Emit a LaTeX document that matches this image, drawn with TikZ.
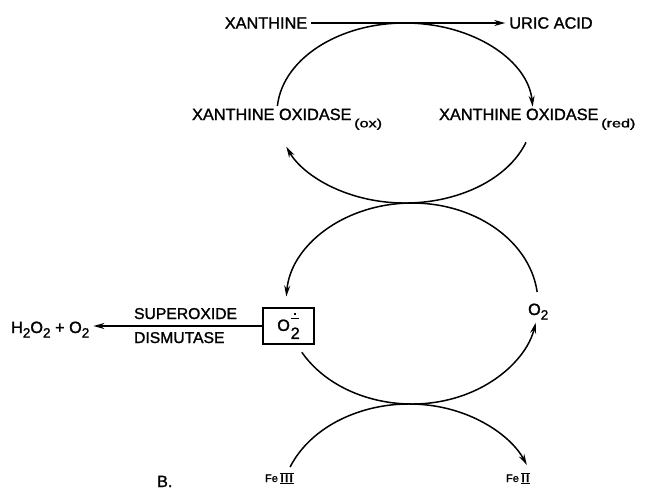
\documentclass[tikz,border=0pt]{standalone}
\usepackage{amsmath}
\usepackage{graphicx}
\usepackage{fontspec}
\setmainfont{Liberation Sans}[FakeBold=1.4]
\usetikzlibrary{arrows.meta}

\newcommand{\subtxt}[1]{\raisebox{-0.28em}{\fontsize{13.5}{13.5}\selectfont #1}}
\newcommand{\redox}[1]{\,\raisebox{-0.45em}{\scalebox{1.35}[1]{\fontsize{12}{12}\selectfont #1}}}
\newcommand{\barnum}[1]{$\underline{\overline{\mbox{\scalebox{1.5}[1]{#1}}}}$}
\newcommand{\superox}{O\hspace{0.8pt}\rlap{\hspace{3.2pt}\raisebox{16pt}{\rule{1.8pt}{1.8pt}}}\rlap{\hspace{0.5pt}\raisebox{11.5pt}{\rule{7.5pt}{1.3pt}}}\raisebox{-8pt}{2}}

\begin{document}
\begin{tikzpicture}[x=1pt,y=1pt,line width=1.5pt,
    >={Stealth[length=11pt,width=6pt]},
    every node/.style={font=\fontsize{16.3}{18}\selectfont},
    lbl/.style={anchor=base west},
    small/.style={font=\fontsize{15.7}{17}\selectfont},
    tiny/.style={font=\fontsize{11}{12}\selectfont}]
    \useasboundingbox (0,0) rectangle (654,-491);

    % labels
    \node (xan) at (266,-23) {XANTHINE};
    \node (uric) at (551,-23) {URIC ACID};
    \node[lbl] (xoox) at (188,-120) {XANTHINE OXIDASE\redox{(ox)}};
    \node[lbl] (xored) at (435,-120) {XANTHINE OXIDASE\redox{(red)}};
    \node[draw,minimum width=51,minimum height=36] (sup) at (288.5,-326) {\superox};
    \node[lbl] (htwo) at (7,-333) {H\subtxt{2}O\subtxt{2} + O\subtxt{2}};
    \node[lbl,small] (enz1) at (130,-319) {SUPEROXIDE};
    \node[lbl,small] (enz2) at (130,-343) {DISMUTASE};
    \node[lbl] (otwo) at (524,-315) {O\subtxt{2}};
    \node[lbl,tiny] (fe3) at (261,-482) {Fe\,\barnum{III}};
    \node[lbl,tiny] (fe2) at (502,-482) {Fe\,\barnum{II}};
    \node[lbl] (part) at (153,-487) {B.};

    % ellipse centres
    \coordinate (ctop) at (405,-113);
    \coordinate (cmid) at (412,-303.5);
    \coordinate (cbot) at (409,-504);

    % connectors
    \draw[->] (xan) -- (uric);
    \draw[->] ([shift={(175.5:128 and 90)}]ctop) arc[start angle=175.5, end angle=4, x radius=128, y radius=90];
    \draw[->] ([shift={(-19:128 and 90)}]ctop) arc[start angle=-19, end angle=-158, x radius=128, y radius=90];
    \draw[->] ([shift={(6.6:126 and 100.5)}]cmid) arc[start angle=6.6, end angle=176, x radius=126, y radius=100.5];
    \draw[->] ([shift={(209:126 and 100.5)}]cmid) arc[start angle=209, end angle=349, x radius=126, y radius=100.5];
    \draw[->] (sup.west) -- (sup.west -| htwo.east);
    \draw[->] ([shift={(158.3:128 and 100)}]cbot) arc[start angle=158.3, end angle=23, x radius=128, y radius=100];
\end{tikzpicture}
\end{document}
